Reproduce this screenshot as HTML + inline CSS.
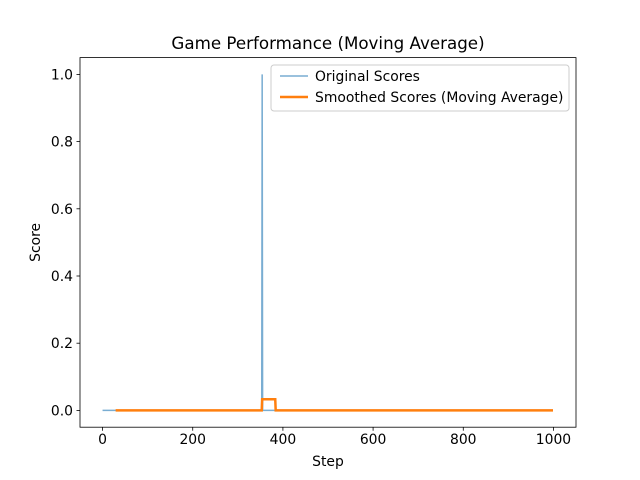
<!DOCTYPE html>
<html><head><meta charset="utf-8"><style>
body{margin:0;background:#fff}
svg{display:block;font-family:"DejaVu Sans","Liberation Sans",sans-serif}
</style></head><body>
<svg id="chart" width="640" height="480"></svg>
<script>
const stepCount = 1000;
const spikeSteps = [354];
const spikeValues = [1];
const windowSize = 30;
const xTicks = [0, 200, 400, 600, 800, 1000];
const yTicks = [0.0, 0.2, 0.4, 0.6, 0.8, 1.0];
const yTickLabels = ["0.0", "0.2", "0.4", "0.6", "0.8", "1.0"];

const L = 80, R = 576, T = 57.6, B = 427.2;
const xMin = -50, xMax = 1050, yMin = -0.05, yMax = 1.05;
const xs = v => L + (v - xMin) / (xMax - xMin) * (R - L);
const ys = v => B - (v - yMin) / (yMax - yMin) * (B - T);
const NS = "http://www.w3.org/2000/svg";
const svg = document.getElementById('chart');
function mk(tag, attrs, parent) {
  const e = document.createElementNS(NS, tag);
  for (const k in attrs) e.setAttribute(k, attrs[k]);
  (parent || svg).appendChild(e);
  return e;
}

const original = new Array(stepCount).fill(0);
spikeSteps.forEach((s, i) => { original[s] = spikeValues[i]; });
const smoothed = [];
for (let i = windowSize - 1; i < stepCount; i++) {
  let s = 0;
  for (let j = i - windowSize + 1; j <= i; j++) s += original[j];
  smoothed.push([i, s / windowSize]);
}

const bg = mk('rect', {x: 0, y: 0, width: 640, height: 480, fill: '#fff'});



const origPath = mk('path', {d: original.map((v, i) => (i ? 'L' : 'M') + xs(i).toFixed(2) + ',' + ys(v).toFixed(2)).join(''), fill: 'none', stroke: '#1f77b4', 'stroke-opacity': 0.6, 'stroke-width': 1.5});



const smPath = mk('path', {d: smoothed.map((p, i) => (i ? 'L' : 'M') + xs(p[0]).toFixed(2) + ',' + ys(p[1]).toFixed(2)).join(''), fill: 'none', stroke: '#ff7f0e', 'stroke-width': 2.5});



const frame = mk('rect', {x: L, y: T, width: R - L, height: B - T, fill: 'none', stroke: '#000', 'stroke-width': 0.8});



xTicks.forEach(v => {
  const x = xs(v);
  const t = mk('line', {x1: x, x2: x, y1: B, y2: B + 3.5, stroke: '#000', 'stroke-width': 0.8});
  
  
  const tx = mk('text', {x: x, y: B + 17, 'text-anchor': 'middle', 'font-size': 13.9});
  tx.textContent = v;
  
  
});
yTicks.forEach((v, i) => {
  const y = ys(v);
  const t = mk('line', {x1: L - 3.5, x2: L, y1: y, y2: y, stroke: '#000', 'stroke-width': 0.8});
  
  
  const tx = mk('text', {x: L - 7, y: y + 5, 'text-anchor': 'end', 'font-size': 13.9});
  tx.textContent = yTickLabels[i];
  
  
});

const title = mk('text', {x: (L + R) / 2, y: 49, 'text-anchor': 'middle', 'font-size': 16.7});
title.textContent = 'Game Performance (Moving Average)';


const xl = mk('text', {x: (L + R) / 2, y: 466, 'text-anchor': 'middle', 'font-size': 13.9});
xl.textContent = 'Step';


const yl = mk('text', {x: 0, y: 0, 'text-anchor': 'middle', 'font-size': 13.9, transform: 'translate(40,' + ((T + B) / 2) + ') rotate(-90)'});
yl.textContent = 'Score';



const lg = mk('g', {});


mk('rect', {x: 271, y: 65, width: 298, height: 46, rx: 3, fill: '#fff', 'fill-opacity': 0.8, stroke: '#ccc', 'stroke-width': 1}, lg);
const e1 = mk('line', {x1: 280, x2: 308, y1: 76, y2: 76, stroke: '#1f77b4', 'stroke-opacity': 0.6, 'stroke-width': 1.5}, lg);


const t1 = mk('text', {x: 315, y: 81, 'font-size': 13.9}, lg);
t1.textContent = 'Original Scores';


const e2 = mk('line', {x1: 280, x2: 308, y1: 97, y2: 97, stroke: '#ff7f0e', 'stroke-width': 2.5}, lg);


const t2 = mk('text', {x: 315, y: 102, 'font-size': 13.9}, lg);
t2.textContent = 'Smoothed Scores (Moving Average)';


</script>
</body></html>
